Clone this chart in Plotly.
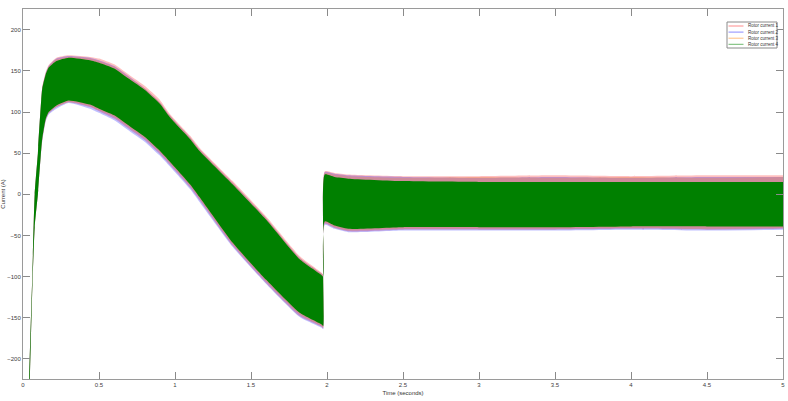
import plotly.graph_objects as go

# envelope of each rotor current (upper / lower edge of the dense oscillation)
t_pts = [0.0, 0.002, 0.03, 0.041, 0.062, 0.077, 0.098, 0.10, 0.12, 0.127,
         0.15, 0.169, 0.22, 0.30, 0.44, 0.50, 0.60, 0.70, 0.80, 0.90,
         0.965, 1.10, 1.16, 1.38, 1.60, 1.82, 1.963, 1.975, 1.985, 2.05,
         2.14, 2.5, 3.0, 3.5, 4.0, 4.5, 5.0]

red_upper = [-160, -400, -400, -225, -95, 0, 50, 58, 116, 131,
             149, 157, 166, 169, 167, 165, 158, 145, 132, 115,
             98, 71, 57, 16, -27, -75, -95, -97, 28, 26,
             24, 22, 22, 23, 22, 23, 23]
red_lower = [-166, -400, -400, -260, -110, -40, 0, 5, 54, 66,
             90, 98, 106, 112, 106, 101, 92, 79, 66, 49,
             36, 8, -7, -63, -108, -148, -161, -163, -36, -41,
             -45, -43, -43, -43, -42, -43, -42]

blue_upper = [-160, -400, -400, -225, -95, 0, 50, 58, 116, 130,
              148, 156, 165, 168, 166, 163, 156, 143, 129, 112,
              96, 69, 55, 14, -29, -77, -96, -98, 27, 25,
              23, 21, 20, 21, 20, 21, 21]
blue_lower = [-166, -400, -400, -260, -110, -40, 0, 5, 53, 65,
              89, 97, 104, 111, 104, 99, 90, 77, 64, 47,
              34, 6, -9, -64, -109, -149, -162, -164, -37, -42,
              -46, -44, -44, -44, -43, -44, -43]

orange_upper = [-160, -400, -400, -225, -95, 0, 50, 58, 115, 130,
                147, 155, 164, 167, 165, 162, 155, 142, 129, 112,
                96, 69, 55, 14, -29, -77, -96, -98, 26, 24,
                22, 20, 21, 20, 21, 20, 21]
orange_lower = [-166, -400, -400, -260, -110, -40, 0, 5, 54, 67,
                91, 99, 106, 112, 107, 102, 94, 81, 68, 51,
                38, 10, -5, -61, -106, -146, -160, -162, -35, -40,
                -44, -42, -42, -42, -41, -42, -41]

green_upper = [-160, -400, -400, -225, -95, 0, 50, 58, 115, 129,
               146, 154, 162, 166, 163, 160, 153, 140, 127, 110,
               94, 67, 53, 12, -31, -79, -98, -100, 24, 21,
               19, 16, 15, 15, 15, 15, 15]
green_lower = [-166, -400, -400, -260, -110, -40, 0, 5, 55, 68,
               92, 100, 108, 114, 109, 104, 96, 83, 70, 53,
               40, 12, -3, -59, -104, -144, -158, -160, -33, -38,
               -42, -40, -40, -40, -39, -39, -39]

series_names = ["Rotor current 1", "Rotor current 2", "Rotor current 3", "Rotor current 4"]
x_ticks = [0, 0.5, 1, 1.5, 2, 2.5, 3, 3.5, 4, 4.5, 5]
x_ticktext = ["0", "0.5", "1", "1.5", "2", "2.5", "3", "3.5", "4", "4.5", "5"]
y_ticks = [-200, -150, -100, -50, 0, 50, 100, 150, 200]

bands = [
    (red_upper, red_lower, "rgba(255,0,0,0.25)", "rgb(255,140,140)"),
    (blue_upper, blue_lower, "rgba(0,0,255,0.25)", "rgb(140,140,255)"),
    (orange_upper, orange_lower, "rgba(255,128,0,0.25)", "rgb(255,190,130)"),
    (green_upper, green_lower, "rgb(0,128,0)", "rgb(110,185,110)"),
]

W, H = 788, 401
ML, MR, MT, MB = 23, 5, 9, 22


def px_to_paper(px, py):
    return (px - ML) / (W - ML - MR), 1 - (py - MT) / (H - MT - MB)


fig = go.Figure()
for name, (up, lo, fill, legcol) in zip(series_names, bands):
    # lower edge first, then the upper edge filled down to it
    fig.add_trace(go.Scatter(
        x=t_pts, y=lo, mode="lines",
        line=dict(width=0, color=fill, shape="spline", smoothing=0.5),
        showlegend=False, hoverinfo="skip",
    ))
    fig.add_trace(go.Scatter(
        x=t_pts, y=up, mode="lines", fill="tonexty", fillcolor=fill,
        line=dict(width=0, color=fill, shape="spline", smoothing=0.5),
        showlegend=False, hoverinfo="skip", name=name,
    ))

# compact matlab-like legend box, drawn by hand (plotly legend rows are too tall here)
shapes = []
annotations = []
x0, y0 = px_to_paper(727, 22)
x1, y1 = px_to_paper(777, 48)
shapes.append(dict(type="rect", xref="paper", yref="paper", x0=x0, y0=y0, x1=x1, y1=y1,
                   line=dict(color="#8a8a8a", width=1), fillcolor="white", layer="above"))
for i, (name, band) in enumerate(zip(series_names, bands)):
    row_y = 26 + i * 6.1
    lx0, ly = px_to_paper(728.5, row_y)
    lx1, _ = px_to_paper(743.5, row_y)
    tx, _ = px_to_paper(745.5, row_y)
    shapes.append(dict(type="line", xref="paper", yref="paper", x0=lx0, x1=lx1, y0=ly, y1=ly,
                       line=dict(color=band[3], width=1), layer="above"))
    annotations.append(dict(text=name, xref="paper", yref="paper", x=tx, y=ly,
                            xanchor="left", yanchor="middle", showarrow=False,
                            font=dict(size=4.5, color="#333")))

axis_style = dict(
    showline=True, linecolor="#9a9a9a", linewidth=1, mirror="ticks",
    ticks="inside", ticklen=7, tickcolor="#8a8a8a", tickwidth=1,
    showgrid=False, zeroline=False, automargin=False,
    tickfont=dict(size=6, color="#404040"),
)

fig.update_layout(
    width=W, height=H,
    margin=dict(l=ML, r=MR, t=MT, b=MB),
    paper_bgcolor="white", plot_bgcolor="white",
    font=dict(family="Liberation Sans, Arial, sans-serif", size=6, color="#333"),
    xaxis=dict(range=[0, 5], tickvals=x_ticks, ticktext=x_ticktext,
               title=dict(text="Time (seconds)", font=dict(size=6, color="#333"), standoff=3),
               **axis_style),
    yaxis=dict(range=[-224.5, 225.2], tickvals=y_ticks,
               title=dict(text="Current (A)", font=dict(size=6, color="#333"), standoff=2),
               **axis_style),
    shapes=shapes,
    annotations=annotations,
    showlegend=False,
)

# drop the default page margin so the 788x401 figure sits flush in the window
fig.write_html("out.html", config={"displayModeBar": False},
               post_script="document.body.style.margin='0';")
